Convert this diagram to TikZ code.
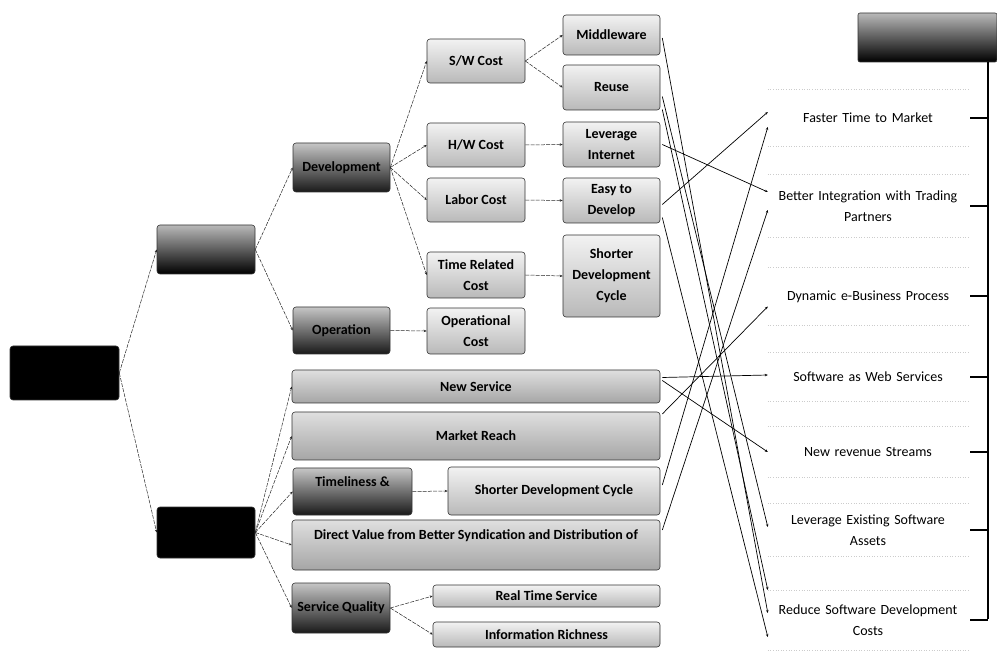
\documentclass[tikz,border=0pt]{standalone}
\usepackage{fontspec}
\setmainfont{Carlito}
\usetikzlibrary{arrows.meta,calc}
\begin{document}
\begin{tikzpicture}[x=1pt,y=-1pt,
 box/.style={rounded corners=3pt, inner sep=1pt, align=center, font=\bfseries\fontsize{14}{21}\selectfont, text=black, draw=black!80, line width=0.6pt},
 lite/.style={box, top color=gray!10, bottom color=gray!55},
 med/.style={box, top color=gray!25, bottom color=gray!70},
 dark/.style={box, top color=gray!45, bottom color=black!90},
 blk/.style={box, top color=gray!55, middle color=black!95, bottom color=black},
 root/.style={box, fill=black},
 ben/.style={align=center, font=\fontsize{14}{21}\selectfont, text width=200pt, inner sep=0pt},
 tree/.style={draw=black!85, line width=0.5pt, dash pattern=on 4pt off 1.2pt, -{Stealth[length=3pt,width=2.5pt]}},
 link/.style={draw=black, line width=0.7pt, -{Stealth[length=3pt,width=2.5pt]}},
 faint/.style={draw=gray!40, dotted, line width=0.6pt},
 brace/.style={draw=black, line width=2.2pt},
]
\useasboundingbox (0,0) rectangle (997,652);

% --- left tree
\node[root, minimum width=109pt, minimum height=54pt] (root) at (64.5,373) {};
\node[blk, minimum width=98pt, minimum height=49pt] (cost) at (206,249.5) {};
\node[root, minimum width=98pt, minimum height=51pt] (rev) at (206,532.5) {};

\node[dark, minimum width=97pt, minimum height=49pt] (dev) at (341.5,167.5) {Development};
\node[dark, minimum width=97pt, minimum height=47pt] (oper) at (341.5,330.5) {Operation};

\node[lite, minimum width=98pt, minimum height=44pt] (sw) at (476,61) {S/W Cost};
\node[lite, minimum width=98pt, minimum height=44pt] (hw) at (476,145) {H/W Cost};
\node[lite, minimum width=98pt, minimum height=44pt] (labor) at (476,200) {Labor Cost};
\node[lite, minimum width=98pt, minimum height=46pt] (time) at (476,275) {Time Related\\Cost};
\node[lite, minimum width=98pt, minimum height=46pt] (opcost) at (476,331) {Operational\\Cost};

\node[lite, minimum width=97pt, minimum height=40pt] (mid) at (611.5,35) {Middleware};
\node[lite, minimum width=97pt, minimum height=45pt] (reuse) at (611.5,87.5) {Reuse};
\node[lite, minimum width=97pt, minimum height=45pt] (levint) at (611.5,144.5) {Leverage\\Internet};
\node[lite, minimum width=97pt, minimum height=45pt] (easy) at (611.5,200.5) {Easy to\\Develop};
\node[lite, minimum width=97pt, minimum height=82pt] (sdc) at (611.5,276) {Shorter\\Development\\Cycle};

\node[med, minimum width=368pt, minimum height=33pt] (newsvc) at (476,386.5) {New Service};
\node[med, minimum width=368pt, minimum height=48pt] (mreach) at (476,436) {Market Reach};
\node[dark, minimum width=119pt, minimum height=47pt, text depth=20pt] (timel) at (352.5,491.5) {Timeliness \&};
\node[lite, minimum width=212pt, minimum height=48pt] (sdc2) at (554,491) {Shorter Development Cycle};
\node[med, minimum width=368pt, minimum height=50pt, text depth=20pt] (direct) at (476,545) {Direct Value from Better Syndication and Distribution of};
\node[dark, minimum width=98pt, minimum height=50pt] (sq) at (341,608) {Service Quality};
\node[lite, minimum width=227pt, minimum height=22pt] (rts) at (546.5,596) {Real Time Service};
\node[lite, minimum width=227pt, minimum height=25pt] (info) at (546.5,634.5) {Information Richness};

% --- tree connectors
\foreach \a/\b in {root/cost,root/rev,cost/dev,cost/oper,dev/sw,dev/hw,dev/labor,dev/time,oper/opcost,
  sw/mid,sw/reuse,hw/levint,labor/easy,time/sdc,
  rev/newsvc,rev/mreach,rev/timel,rev/direct,rev/sq,timel/sdc2,sq/rts,sq/info}
  \draw[tree] (\a.east) -- (\b.west);

% --- benefits
\node[blk, minimum width=139pt, minimum height=49pt, rounded corners=2pt] (header) at (927.5,37.5) {};
\node[ben, minimum height=57pt] (faster) at (868,118) {Faster Time to Market};
\node[ben, minimum height=62pt] (better) at (868,206) {Better Integration with Trading\\Partners};
\node[ben, minimum height=57pt] (dynamic) at (868,296.5) {Dynamic e-Business Process};
\node[ben, minimum height=48pt] (sws) at (868,377) {Software as Web Services};
\node[ben, minimum height=50pt] (newrev) at (868,452) {New revenue Streams};
\node[ben, minimum height=53pt] (levex) at (868,530) {Leverage Existing Software\\Assets};
\node[ben, minimum height=60pt] (reduce) at (868,620) {Reduce Software Development\\Costs};

\foreach \n in {faster,better,dynamic,sws,newrev,levex,reduce}{
  \draw[faint] (\n.north west) -- (\n.north east);
  \draw[faint] (\n.south west) -- (\n.south east);
}

\coordinate (btop) at (988,62);
\coordinate (bbot) at (988,619);
\draw[brace] (btop) -- (bbot);
\foreach \n in {faster,better,dynamic,sws,newrev,levex,reduce}
  \draw[draw=black, line width=2pt] ($(\n.east)+(2,0)$) -- (\n.east -| btop);

% --- cross links
\draw[link] ($(mid.east)+(2,3)$) -- ($(reduce.west)+(0,-7)$);
\draw[link] ($(reuse.east)+(2,9)$) -- ($(levex.west)+(0,-3)$);
\draw[link] ($(reuse.east)+(2,22)$) -- ($(reduce.west)+(0,-30)$);
\draw[link] ($(levint.east)+(2,0)$) -- ($(better.west)+(0,-14)$);
\draw[link] ($(easy.east)+(2,4)$) -- ($(faster.west)+(0,-6)$);
\draw[link] ($(easy.east)+(2,17)$) -- ($(reduce.west)+(0,17)$);
\draw[link] ($(sdc2.east)+(2,-6)$) -- ($(faster.west)+(0,9)$);
\draw[link] ($(newsvc.east)+(2,-9)$) -- ($(sws.west)+(0,-2)$);
\draw[link] ($(newsvc.east)+(2,-6)$) -- ($(newrev.west)+(0,0)$);
\draw[link] ($(mreach.east)+(2,-22)$) -- ($(dynamic.west)+(0,10)$);
\draw[link] ($(direct.east)+(2,-15)$) -- ($(better.west)+(0,4)$);
\end{tikzpicture}
\end{document}
